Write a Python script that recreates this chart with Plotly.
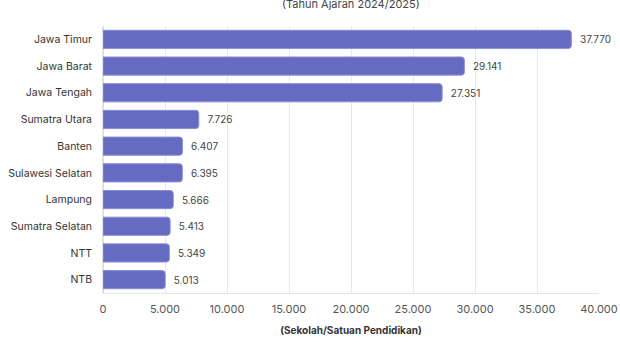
import plotly.graph_objects as go

provinces = ["Jawa Timur", "Jawa Barat", "Jawa Tengah", "Sumatra Utara", "Banten",
             "Sulawesi Selatan", "Lampung", "Sumatra Selatan", "NTT", "NTB"]
schools = [37770, 29141, 27351, 7726, 6407, 6395, 5666, 5413, 5349, 5013]
tick_vals = [0, 5000, 10000, 15000, 20000, 25000, 30000, 35000, 40000]
tick_text = ["0", "5.000", "10.000", "15.000", "20.000", "25.000", "30.000", "35.000", "40.000"]

def fmt(v):
    return f"{v:,}".replace(",", ".")

fig = go.Figure(go.Bar(
    x=schools,
    y=provinces,
    orientation="h",
    width=0.68,
    marker=dict(color="#656bc0", line=dict(color="#8a8fd4", width=1)),
    text=["  " + fmt(v) for v in schools],
    textposition="outside",
    cliponaxis=False,
    textfont=dict(family="Inter, Lato, sans-serif", size=10, color="#444444"),
    hoverinfo="skip",
))

fig.update_layout(
    width=620, height=348,
    margin=dict(l=103, r=21, t=26, b=55, autoexpand=False),
    paper_bgcolor="white", plot_bgcolor="white",
    barcornerradius=3,
    showlegend=False,
    font=dict(family="Inter, Lato, sans-serif", size=11, color="#333333"),
    annotations=[dict(
        text="(Tahun Ajaran 2024/2025)",
        xref="paper", yref="paper", x=0.5, y=1.0, yshift=22,
        xanchor="center", yanchor="middle",
        showarrow=False,
        font=dict(size=11, color="#444444"),
    )],
)

fig.update_xaxes(
    range=[0, 40000], automargin=False,
    tickvals=tick_vals, ticktext=tick_text,
    showgrid=True, gridcolor="#e8e8e8", gridwidth=1,
    zeroline=True, zerolinecolor="#e0e0e0",
    showline=True, linecolor="#e4e4e4",
    ticklabelstandoff=6,
    tickfont=dict(size=11, color="#555555"),
    title=dict(text="<b>(Sekolah/Satuan Pendidikan)</b>", font=dict(size=10, color="#333333"), standoff=11),
)
fig.update_yaxes(
    categoryorder="array", categoryarray=provinces[::-1], automargin=False,
    showgrid=False, ticks="", ticklabelstandoff=10,
    tickfont=dict(size=10.5, color="#333333"),
)

fig.write_html("out.html")
